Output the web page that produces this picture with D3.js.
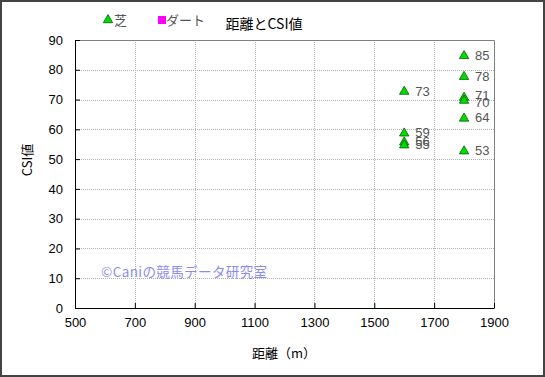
<!DOCTYPE html>
<html>
<head>
<meta charset="utf-8">
<script src="https://cdn.jsdelivr.net/npm/d3@7"></script>
<style>
  body { margin: 0; background: #fff; }
  svg text { font-family: "Liberation Sans", Arial, "Noto Sans CJK JP", sans-serif; }
  .jp { font-family: "Noto Sans CJK JP", sans-serif; }
</style>
</head>
<body>
<div id="canvas"></div>
<script>
"use strict"

// 芝 (turf) races: distance and CSI value
let turfDistance = [1600, 1600, 1600, 1600, 1800, 1800, 1800, 1800, 1800, 1800]
let turfCSI = [73, 59, 56, 55, 85, 78, 71, 70, 64, 53]
let turfLabelDy = [0, 0, 0, 0, 0, 0, -2, 2, 0, 0]

let xTicks = [500, 700, 900, 1100, 1300, 1500, 1700, 1900]
let yTicks = [0, 10, 20, 30, 40, 50, 60, 70, 80, 90]

let svgWidth = 545
let svgHeight = 377

let margin = { top: 40, right: 51, bottom: 69, left: 75 }
let width = svgWidth - margin.left - margin.right
let height = svgHeight - margin.top - margin.bottom

let svg = d3.select("#canvas")
    .append("svg")
    .attr("width", svgWidth)
    .attr("height", svgHeight)

// outer frame
svg.append("rect")
    .attr("x", 1).attr("y", 1)
    .attr("width", svgWidth - 2).attr("height", svgHeight - 2)
    .attr("fill", "#fff")
    .attr("stroke", "#444")
    .attr("stroke-width", 2)

let viz = svg.append("g")
    .attr("transform", `translate(${margin.left},${margin.top})`)

let xScale = d3.scaleLinear().domain([500, 1900]).range([0, width])
let yScale = d3.scaleLinear().domain([0, 90]).range([height, 0])

// grid
viz.selectAll("line.vgrid")
    .data(xTicks.slice(1, -1))
    .enter().append("line")
    .attr("x1", d => Math.round(xScale(d)) + 0.5)
    .attr("x2", d => Math.round(xScale(d)) + 0.5)
    .attr("y1", 0).attr("y2", height)
    .attr("stroke", "#b0b0b0")
    .attr("stroke-dasharray", "1,1")

viz.selectAll("line.hgrid")
    .data(yTicks.slice(1, -1))
    .enter().append("line")
    .attr("y1", d => Math.round(yScale(d)) + 0.5)
    .attr("y2", d => Math.round(yScale(d)) + 0.5)
    .attr("x1", 0).attr("x2", width)
    .attr("stroke", "#b0b0b0")
    .attr("stroke-dasharray", "1,1")

// plot frame: grey top/right, black left/bottom
viz.append("path")
    .attr("d", `M0.5,0.5H${width + 0.5}V${height + 0.5}`)
    .attr("fill", "none").attr("stroke", "#808080")
viz.append("path")
    .attr("d", `M0.5,0.5V${height + 0.5}H${width + 0.5}`)
    .attr("fill", "none").attr("stroke", "#000")

// axes
let xAxis = d3.axisBottom(xScale).tickValues(xTicks).tickSize(5).tickFormat(d3.format("d"))
let yAxis = d3.axisLeft(yScale).tickValues(yTicks).tickSize(-5).tickFormat(d3.format("d"))

let gx = viz.append("g").attr("transform", `translate(0,${height})`).call(xAxis)
gx.select(".domain").remove()
gx.selectAll("line").attr("transform", "translate(0,-5)").attr("stroke", "#000")
gx.selectAll("text").attr("y", 10).attr("font-size", 13).attr("fill", "#000")

let gy = viz.append("g").call(yAxis)
gy.select(".domain").remove()
gy.selectAll("line").attr("stroke", "#000")
gy.selectAll("text").attr("x", -12).attr("font-size", 13).attr("fill", "#000")

// axis titles
svg.append("text")
    .attr("class", "jp")
    .attr("x", 284).attr("y", 358)
    .attr("text-anchor", "middle")
    .attr("font-size", 13)
    .text("距離（m）")

svg.append("text")
    .attr("class", "jp")
    .attr("transform", "translate(32,160) rotate(-90)")
    .attr("text-anchor", "middle")
    .attr("font-size", 13)
    .text("CSI値")

// title
svg.append("text")
    .attr("class", "jp")
    .attr("x", 264).attr("y", 29)
    .attr("text-anchor", "middle")
    .attr("font-size", 14)
    .text("距離とCSI値")

// watermark
svg.append("text")
    .attr("class", "jp")
    .attr("x", 101).attr("y", 277)
    .attr("font-size", 13.5)
    .attr("letter-spacing", 0.4)
    .attr("fill", "#8c8cf0")
    .text("©Caniの競馬データ研究室")

// points
let tri = d3.symbol().type(d3.symbolTriangle).size(38)
let points = turfDistance.map((d, i) => ({ x: d, y: turfCSI[i], dy: turfLabelDy[i] }))

viz.selectAll("path.pt")
    .data(points)
    .enter().append("path")
    .attr("class", "pt")
    .attr("d", tri)
    .attr("transform", d => `translate(${xScale(d.x)},${yScale(d.y) + 1})`)
    .attr("fill", "#00dd00")
    .attr("stroke", "#006000")
    .attr("stroke-width", 0.8)

viz.selectAll("text.lbl")
    .data(points)
    .enter().append("text")
    .attr("class", "lbl")
    .attr("x", d => xScale(d.x) + 11)
    .attr("y", d => yScale(d.y) + 5 + d.dy)
    .attr("font-size", 13)
    .attr("fill", "#555")
    .text(d => d.y)

// legend
let legend = svg.append("g")
legend.append("path")
    .attr("d", tri)
    .attr("transform", "translate(108,20)")
    .attr("fill", "#00dd00")
    .attr("stroke", "#006000")
    .attr("stroke-width", 0.8)
legend.append("text")
    .attr("class", "jp")
    .attr("x", 114).attr("y", 25)
    .attr("font-size", 13).attr("fill", "#555")
    .text("芝")
legend.append("rect")
    .attr("x", 158).attr("y", 16)
    .attr("width", 8).attr("height", 8)
    .attr("fill", "#ff00ff")
legend.append("text")
    .attr("class", "jp")
    .attr("x", 166).attr("y", 25)
    .attr("font-size", 13).attr("fill", "#555")
    .text("ダート")
</script>
</body>
</html>
